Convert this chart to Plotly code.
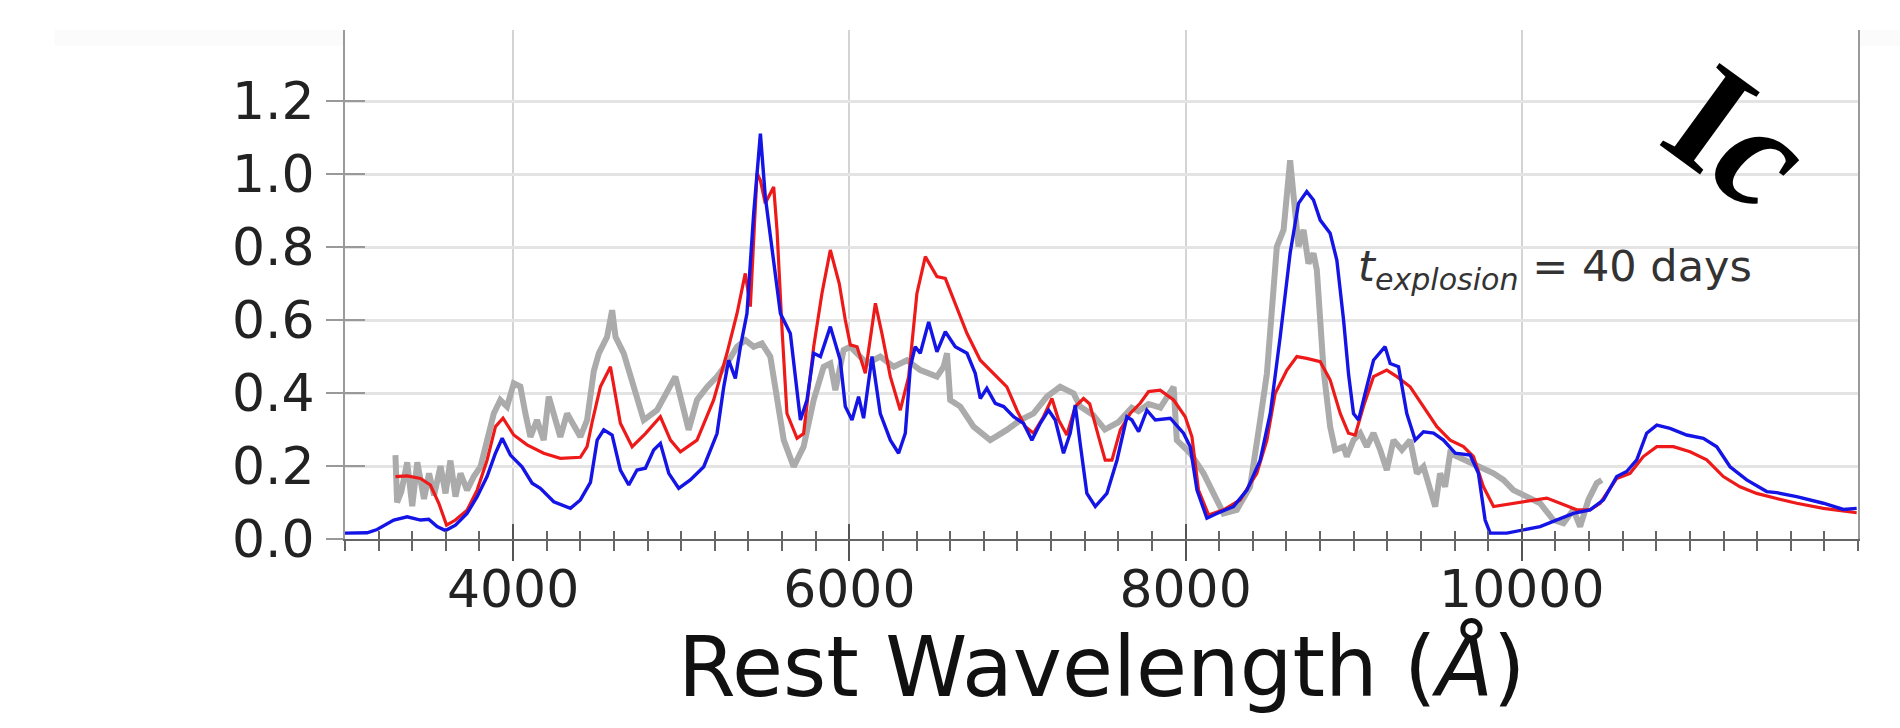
import plotly.graph_objects as go

# ---- data ----
obs_wave = [3300, 3310, 3335, 3370, 3400, 3430, 3470, 3500, 3530, 3568, 3598, 3627, 3657, 3687, 3726,
            3766, 3806, 3845, 3885, 3924, 3964, 4004, 4043, 4073, 4103, 4142, 4182, 4212, 4251, 4281,
            4321, 4361, 4400, 4440, 4480, 4510, 4559, 4589, 4609, 4658, 4718, 4777, 4856, 4916, 4965,
            5015, 5044, 5094, 5154, 5213, 5272, 5332, 5381, 5431, 5480, 5530, 5570, 5610, 5669, 5728,
            5788, 5847, 5887, 5917, 5966, 6006, 6105, 6184, 6264, 6343, 6422, 6521, 6561, 6581, 6600,
            6660, 6739, 6838, 6937, 7017, 7096, 7175, 7254, 7334, 7373, 7450, 7520, 7600, 7680, 7720,
            7780, 7850, 7929, 7948, 8028, 8107, 8166, 8226, 8305, 8384, 8444, 8484, 8543, 8583, 8622,
            8652, 8672, 8702, 8731, 8761, 8781, 8801, 8821, 8860, 8890, 8940, 8959, 8999, 9039, 9078,
            9118, 9158, 9197, 9237, 9287, 9336, 9376, 9415, 9455, 9485, 9514, 9544, 9574, 9614, 9673,
            9752, 9832, 9891, 9950, 10030, 10109, 10188, 10248, 10307, 10347, 10396, 10446, 10476]
obs_flux = [0.23, 0.10, 0.13, 0.21, 0.09, 0.21, 0.11, 0.18, 0.12, 0.20, 0.125, 0.215, 0.116, 0.18, 0.134,
            0.171, 0.198, 0.271, 0.344, 0.381, 0.363, 0.427, 0.418, 0.344, 0.28, 0.326, 0.271, 0.39, 0.326, 0.28,
            0.344, 0.308, 0.28, 0.326, 0.46, 0.509, 0.554, 0.627, 0.554, 0.509, 0.417, 0.326, 0.353, 0.408, 0.445,
            0.353, 0.299, 0.381, 0.417, 0.445, 0.481, 0.527, 0.545, 0.527, 0.536, 0.50, 0.39, 0.271, 0.198, 0.253,
            0.381, 0.472, 0.481, 0.408, 0.518, 0.527, 0.481, 0.50, 0.472, 0.49, 0.463, 0.445, 0.472, 0.509, 0.381,
            0.363, 0.308, 0.271, 0.299, 0.326, 0.344, 0.39, 0.417, 0.399, 0.363, 0.34, 0.30, 0.32, 0.36, 0.35,
            0.37, 0.36, 0.417, 0.271, 0.235, 0.18, 0.125, 0.07, 0.08, 0.143, 0.326, 0.454, 0.801, 0.847, 1.038,
            0.91, 0.801, 0.847, 0.755, 0.783, 0.737, 0.60, 0.463, 0.308, 0.244, 0.253, 0.226, 0.271, 0.29, 0.253,
            0.29, 0.244, 0.189, 0.271, 0.244, 0.271, 0.18, 0.198, 0.143, 0.089, 0.18, 0.143, 0.235, 0.226, 0.216,
            0.198, 0.18, 0.162, 0.134, 0.116, 0.098, 0.052, 0.043, 0.08, 0.034, 0.107, 0.153, 0.162]

red_wave = [3300, 3370, 3449, 3508, 3558, 3604, 3657, 3726, 3786, 3845, 3895, 3940, 4004, 4083, 4182,
            4281, 4400, 4440, 4470, 4519, 4579, 4638, 4708, 4787, 4876, 4936, 4995, 5094, 5193, 5272,
            5332, 5381, 5411, 5451, 5471, 5500, 5550, 5570, 5600, 5629, 5689, 5728, 5788, 5837, 5887,
            5940, 5976, 6006, 6046, 6095, 6155, 6194, 6244, 6303, 6353, 6402, 6452, 6521, 6571, 6630,
            6700, 6779, 6858, 6937, 6997, 7046, 7096, 7155, 7205, 7245, 7294, 7344, 7393, 7430, 7483,
            7522, 7562, 7612, 7671, 7730, 7780, 7849, 7929, 7998, 8038, 8077, 8137, 8226, 8325, 8424,
            8484, 8533, 8603, 8662, 8721, 8801, 8860, 8920, 8969, 9009, 9058, 9118, 9197, 9257, 9336,
            9415, 9495, 9574, 9653, 9713, 9772, 9832, 9950, 10069, 10149, 10228, 10327, 10406, 10466, 10565,
            10644, 10723, 10803, 10902, 11001, 11100, 11199, 11298, 11397, 11516, 11635, 11794, 11992]
red_flux = [0.171, 0.173, 0.166, 0.148, 0.098, 0.038, 0.052, 0.079, 0.134, 0.216, 0.308, 0.331, 0.285, 0.258, 0.235,
            0.221, 0.224, 0.253, 0.32, 0.417, 0.472, 0.317, 0.253, 0.289, 0.335, 0.271, 0.239, 0.271, 0.381, 0.509,
            0.618, 0.728, 0.637, 1.002, 0.983, 0.92, 0.965, 0.846, 0.572, 0.344, 0.276, 0.289, 0.527, 0.673, 0.792,
            0.70, 0.60, 0.532, 0.527, 0.454, 0.646, 0.563, 0.445, 0.353, 0.445, 0.673, 0.774, 0.719, 0.714, 0.646,
            0.563, 0.49, 0.454, 0.417, 0.353, 0.308, 0.29, 0.335, 0.385, 0.326, 0.285, 0.363, 0.385, 0.37, 0.28,
            0.216, 0.216, 0.299, 0.344, 0.372, 0.404, 0.408, 0.381, 0.335, 0.28, 0.134, 0.066, 0.08, 0.107, 0.18,
            0.271, 0.399, 0.463, 0.50, 0.495, 0.486, 0.436, 0.344, 0.29, 0.285, 0.363, 0.445, 0.463, 0.445, 0.417,
            0.363, 0.308, 0.271, 0.253, 0.226, 0.143, 0.089, 0.098, 0.107, 0.112, 0.098, 0.08, 0.08, 0.098, 0.166,
            0.18, 0.226, 0.253, 0.253, 0.239, 0.217, 0.171, 0.143, 0.125, 0.111, 0.098, 0.084, 0.072]

blue_wave = [2997, 3132, 3191, 3290, 3370, 3449, 3498, 3548, 3598, 3657, 3726, 3786, 3845, 3895, 3935,
             3984, 4053, 4113, 4162, 4242, 4341, 4400, 4460, 4500, 4539, 4589, 4638, 4688, 4737, 4787,
             4836, 4876, 4926, 4985, 5054, 5134, 5213, 5253, 5282, 5322, 5352, 5391, 5431, 5471, 5500,
             5550, 5590, 5649, 5679, 5709, 5748, 5788, 5828, 5887, 5946, 5976, 6016, 6055, 6085, 6135,
             6184, 6244, 6293, 6333, 6363, 6392, 6422, 6472, 6521, 6571, 6630, 6700, 6749, 6779, 6818,
             6868, 6918, 6977, 7036, 7086, 7136, 7185, 7225, 7274, 7314, 7344, 7373, 7413, 7463, 7532,
             7592, 7651, 7681, 7721, 7770, 7820, 7909, 7988, 8028, 8068, 8127, 8186, 8285, 8365, 8444,
             8504, 8563, 8622, 8672, 8721, 8761, 8801, 8860, 8900, 8940, 8970, 8999, 9029, 9068, 9118,
             9187, 9217, 9267, 9316, 9366, 9415, 9475, 9534, 9604, 9693, 9742, 9782, 9812, 9911, 10109,
             10307, 10406, 10486, 10565, 10624, 10684, 10743, 10803, 10882, 10981, 11080, 11160, 11239, 11338, 11457,
             11516, 11635, 11794, 11913, 11992]
blue_flux = [0.016, 0.017, 0.026, 0.052, 0.061, 0.052, 0.054, 0.034, 0.023, 0.038, 0.07, 0.116, 0.171, 0.235, 0.276,
             0.23, 0.198, 0.153, 0.139, 0.102, 0.084, 0.107, 0.155, 0.271, 0.299, 0.285, 0.189, 0.148, 0.189, 0.194,
             0.244, 0.262, 0.18, 0.139, 0.162, 0.198, 0.289, 0.417, 0.49, 0.44, 0.527, 0.618, 0.892, 1.111, 0.938,
             0.755, 0.618, 0.563, 0.436, 0.326, 0.381, 0.509, 0.50, 0.582, 0.49, 0.363, 0.326, 0.39, 0.331, 0.50,
             0.344, 0.271, 0.235, 0.29, 0.472, 0.527, 0.509, 0.595, 0.513, 0.568, 0.527, 0.509, 0.454, 0.385, 0.413,
             0.372, 0.363, 0.335, 0.317, 0.271, 0.317, 0.353, 0.326, 0.235, 0.29, 0.367, 0.262, 0.125, 0.089, 0.125,
             0.216, 0.335, 0.326, 0.294, 0.353, 0.326, 0.331, 0.29, 0.253, 0.134, 0.057, 0.07, 0.089, 0.134, 0.216,
             0.344, 0.554, 0.783, 0.92, 0.952, 0.929, 0.874, 0.838, 0.764, 0.60, 0.45, 0.344, 0.326, 0.399, 0.49,
             0.527, 0.481, 0.472, 0.344, 0.271, 0.294, 0.29, 0.271, 0.235, 0.23, 0.18, 0.052, 0.016, 0.016, 0.034,
             0.07, 0.08, 0.107, 0.171, 0.185, 0.217, 0.29, 0.312, 0.303, 0.285, 0.276, 0.253, 0.198, 0.162, 0.13,
             0.127, 0.116, 0.098, 0.081, 0.084]

x_ticks = [4000, 6000, 8000, 10000]
x_ticktext = ["4000", "6000", "8000", "10000"]
y_ticks = [0.0, 0.2, 0.4, 0.6, 0.8, 1.0, 1.2]
y_ticktext = ["0.0", "0.2", "0.4", "0.6", "0.8", "1.0", "1.2"]
x_range = [3000, 12000]
y_range = [0, 1.395]
label_text = "<i>t</i><sub><i>explosion</i></sub> = 40 days"
type_text = "<b>I<i>c</i></b>"
x_title = "Rest Wavelength (<i>Å</i>)"

FONT = "DejaVu Sans"

fig = go.Figure()
fig.add_trace(go.Scatter(x=obs_wave, y=obs_flux, mode="lines",
                         line=dict(color="#ababab", width=6), xaxis="x", yaxis="y",
                         showlegend=False, hoverinfo="skip"))
fig.add_trace(go.Scatter(x=red_wave, y=red_flux, mode="lines",
                         line=dict(color="#ee1a1a", width=3.2), xaxis="x2", yaxis="y2",
                         showlegend=False, hoverinfo="skip"))
fig.add_trace(go.Scatter(x=blue_wave, y=blue_flux, mode="lines",
                         line=dict(color="#1414e6", width=3.4), xaxis="x2", yaxis="y2",
                         showlegend=False, hoverinfo="skip"))

fig.update_layout(
    width=1900, height=728, autosize=False,
    margin=dict(l=345, r=42, t=30, b=189),
    paper_bgcolor="white", plot_bgcolor="white",
    font=dict(family=FONT, color="#222"),
    xaxis=dict(range=x_range, tickmode="array", tickvals=x_ticks, ticktext=x_ticktext,
               ticks="outside", ticklen=20, tickwidth=2, tickcolor="#555",
               minor=dict(ticks="outside", ticklen=10, tickwidth=1.5, tickcolor="#666",
                          dtick=200, tick0=3000, showgrid=False),
               showgrid=True, gridcolor="#d4d4d4", gridwidth=1.5,
               showline=True, linecolor="#666", linewidth=2,
               zeroline=False, ticklabelstandoff=-16,
               tickfont=dict(family=FONT, size=52, color="#222")),
    yaxis=dict(range=y_range, tickmode="array", tickvals=y_ticks, ticktext=y_ticktext,
               ticks="outside", ticklen=17, tickwidth=2, tickcolor="#999",
               showgrid=True, gridcolor="#e4e4e4", gridwidth=3,
               showline=True, linecolor="#9a9a9a", linewidth=2, mirror=True,
               zeroline=False, ticklabelstandoff=1,
               tickfont=dict(family=FONT, size=52, color="#222")),
    xaxis2=dict(range=x_range, overlaying="x", anchor="y2", side="bottom",
                tickmode="array", tickvals=x_ticks, showticklabels=False,
                ticks="inside", ticklen=15, tickwidth=2, tickcolor="#555",
                minor=dict(ticks="inside", ticklen=8, tickwidth=1.5, tickcolor="#666",
                           dtick=200, tick0=3000, showgrid=False),
                showgrid=False, showline=False, zeroline=False),
    yaxis2=dict(range=y_range, overlaying="y", anchor="x2", side="left",
                tickmode="array", tickvals=y_ticks, showticklabels=False,
                ticks="inside", ticklen=20, tickwidth=2, tickcolor="#999",
                showgrid=False, showline=False, zeroline=False),
    shapes=[
        dict(type="rect", xref="paper", yref="paper", x0=-0.192, x1=0, y0=0.969, y1=1.0,
             fillcolor="#fbfbfb", line=dict(width=0), layer="below"),
        dict(type="rect", xref="paper", yref="paper", x0=1.0, x1=1.028, y0=0.969, y1=1.0,
             fillcolor="#fbfbfb", line=dict(width=0), layer="below"),
    ],
    annotations=[
        dict(text=x_title, xref="paper", yref="paper", x=0.5, y=-0.15,
             xanchor="center", yanchor="top", showarrow=False,
             font=dict(family=FONT, size=83, color="#111")),
        dict(text=label_text, xref="x", yref="y", x=9015, y=0.74,
             xanchor="left", yanchor="middle", showarrow=False,
             font=dict(family=FONT, size=43, color="#333")),
        dict(text=type_text, xref="x", yref="y", x=11290, y=1.10,
             xanchor="center", yanchor="middle", showarrow=False, textangle=36,
             font=dict(family="Liberation Serif", size=155, color="black")),
    ],
)

fig.write_html("out.html")
